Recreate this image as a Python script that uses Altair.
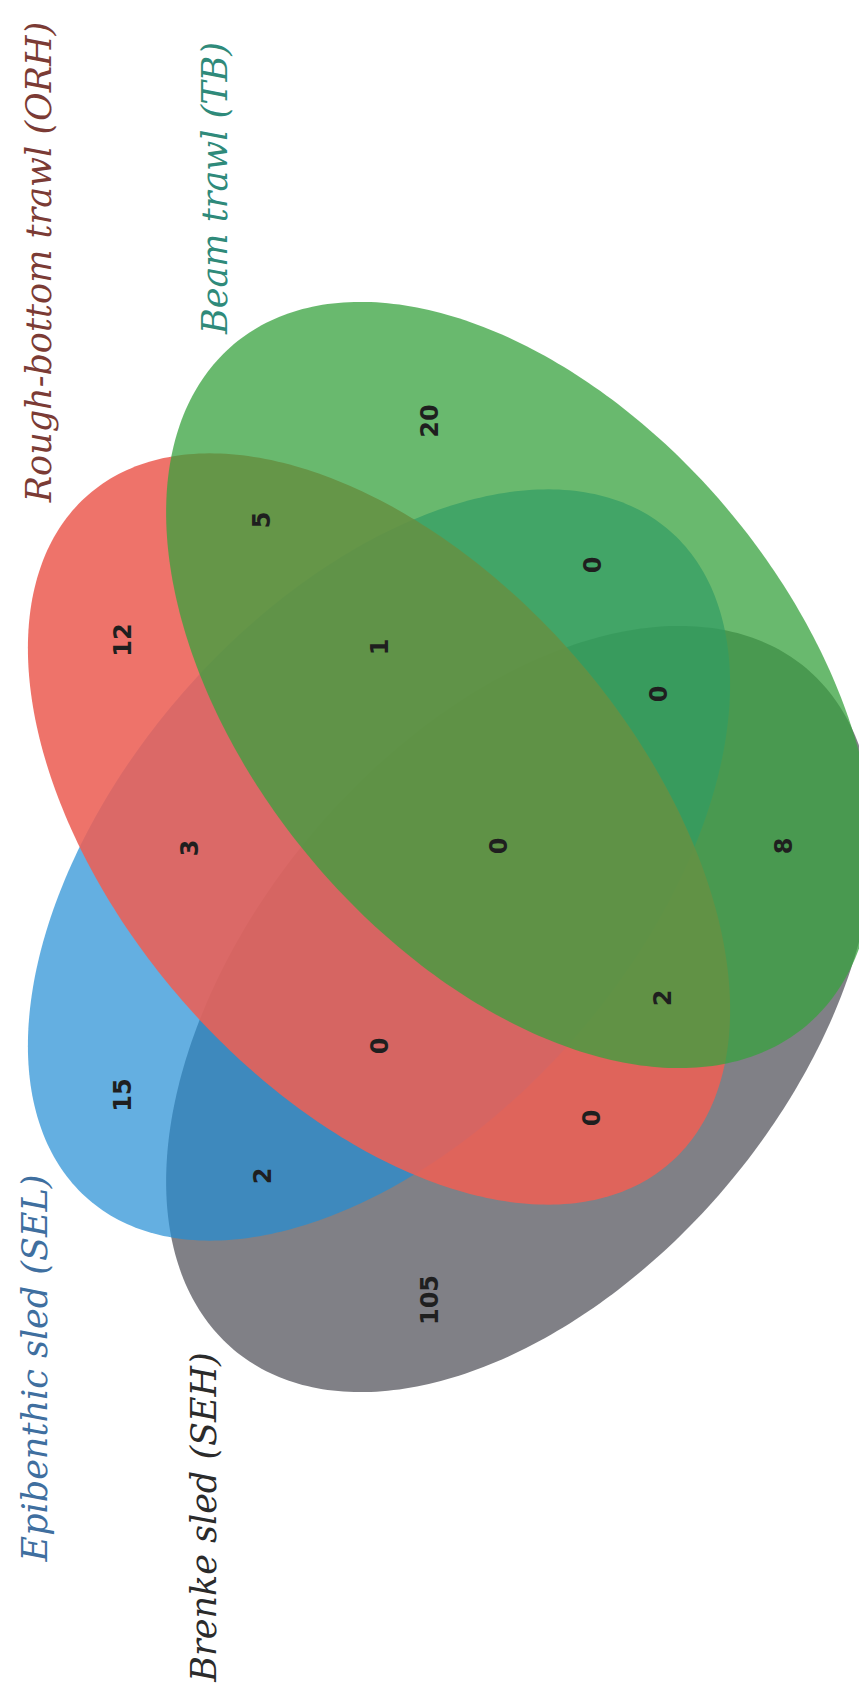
import numpy as np
import pandas as pd
import altair as alt

# ---- data -------------------------------------------------------------
set_names = ["Brenke sled (SEH)", "Epibenthic sled (SEL)",
             "Rough-bottom trawl (ORH)", "Beam trawl (TB)"]
set_colors = ["#808086", "#228dd4", "#ec6055", "#37a23e"]
set_alpha = [1.0, 0.7, 0.88, 0.75]
label_colors = ["#2b2b2b", "#3f6f9f", "#7b3b35", "#2f8a7a"]

# ellipse layout (centre, semi axes, tilt) in picture pixels
ell_cx = [520, 379, 379, 520]
ell_cy = [1009, 865, 829, 685]
ell_a = [445, 443, 443, 445]
ell_b = [272, 261, 261, 272]
ell_angle = [-50, -49, 49, 50]

# set-name label anchors
label_x = [205, 36, 40, 216]
label_y = [1517, 1368, 262, 188]

# region counts and their anchors
region_counts = [20, 5, 12, 0, 1, 0, 3, 0, 8, 0, 2, 0, 15, 2, 105]
region_x = [431, 263, 124, 594, 381, 660, 191, 500, 785, 381, 664, 593, 124, 264, 431]
region_y = [421, 520, 640, 565, 647, 694, 848, 846, 846, 1046, 998, 1118, 1095, 1176, 1300]

# ---- build shapes -------------------------------------------------------
t = np.linspace(0, 2 * np.pi, 361)
layers = []
for i, name in enumerate(set_names):
    th = np.deg2rad(ell_angle[i])
    xs = ell_cx[i] + ell_a[i] * np.cos(t) * np.cos(th) - ell_b[i] * np.sin(t) * np.sin(th)
    ys = ell_cy[i] + ell_a[i] * np.cos(t) * np.sin(th) + ell_b[i] * np.sin(t) * np.cos(th)
    ring = [[float(x), float(y)] for x, y in zip(xs, ys)]
    ring[-1] = ring[0]
    fc = {"type": "FeatureCollection", "features": [{
        "type": "Feature", "properties": {"name": name},
        "geometry": {"type": "Polygon", "coordinates": [ring]}}]}
    layers.append(
        alt.Chart(alt.Data(values=fc, format=alt.DataFormat(property="features", type="json")))
        .mark_geoshape(fill=set_colors[i], fillOpacity=set_alpha[i], strokeWidth=0)
    )

counts_df = pd.DataFrame({"x": region_x, "y": region_y,
                          "label": [str(v) for v in region_counts]})
layers.append(
    alt.Chart(counts_df).mark_text(angle=270, fontSize=24, font="DejaVu Sans",
                                   fontWeight="bold", color="#1f1f1f",
                                   baseline="middle", align="center")
    .encode(longitude="x:Q", latitude="y:Q", text="label:N")
)

for i, name in enumerate(set_names):
    df = pd.DataFrame({"x": [label_x[i]], "y": [label_y[i]], "label": [name]})
    layers.append(
        alt.Chart(df).mark_text(angle=270, fontSize=35, font="DejaVu Serif",
                                fontStyle="italic", color=label_colors[i],
                                baseline="middle", align="center")
        .encode(longitude="x:Q", latitude="y:Q", text="label:N")
    )

chart = (
    alt.layer(*layers)
    .project(type="identity", scale=1, translate=[-8, -8])
    .properties(width=851, height=1676, padding=0,
                autosize=alt.AutoSizeParams(type="none"))
    .configure_view(stroke=None)
)

chart.save("out.html", embed_options={"renderer": "svg", "actions": False})
